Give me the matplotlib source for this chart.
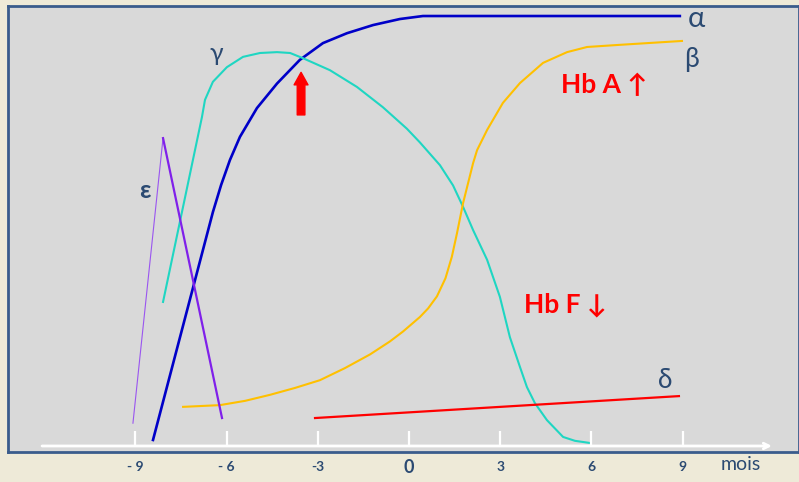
import numpy as np
import matplotlib
matplotlib.use("Agg")
from matplotlib import pyplot as plt

# months (x) and percent of globin chain synthesis (y)
alpha_x = [-8.42, -6.45, -6.18, -5.89, -5.56, -5.00, -4.34, -3.59, -2.83, -2.04, -1.18, -0.30, 0.46, 8.91]
alpha_y = [1.4, 54.4, 60.7, 66.5, 71.9, 78.6, 84.3, 89.8, 93.7, 96.0, 97.9, 99.3, 100.0, 100.0]

gamma_x = [-8.09, -6.81, -6.71, -6.45, -5.99, -5.46, -4.90, -4.34, -3.91, -3.49, -2.60, -1.71,
           -0.86, -0.07, 0.36, 1.02, 1.45, 1.78, 2.11, 2.57, 2.99, 3.32, 3.65, 3.88, 4.14,
           4.54, 5.07, 5.46, 5.95]
gamma_y = [33.5, 76.5, 80.5, 84.7, 88.1, 90.5, 91.4, 91.6, 91.4, 90.2, 87.4, 83.5,
           78.8, 73.8, 70.6, 65.3, 60.6, 55.6, 50.2, 43.3, 34.7, 25.3, 18.4, 13.7, 10.0,
           6.0, 2.1, 1.2, 0.7]

beta_x = [-7.43, -6.22, -5.39, -4.57, -3.75, -2.93, -2.11, -1.28, -0.63, -0.20, 0.36, 0.63,
          0.92, 1.20, 1.41, 1.58, 1.78, 2.11, 2.24, 2.57, 3.09, 3.65, 4.41, 5.20, 5.86, 6.94, 8.98]
beta_y = [9.1, 9.5, 10.5, 11.9, 13.5, 15.3, 18.1, 21.3, 24.3, 26.6, 30.0, 32.0,
          34.8, 39.0, 44.0, 49.5, 56.5, 65.8, 68.8, 73.5, 79.8, 84.4, 89.1, 91.6, 92.8, 93.3, 94.2]

eps_up_x = [-9.08, -8.09]
eps_up_y = [5.3, 71.6]
eps_down_x = [-8.09, -6.15]
eps_down_y = [71.6, 6.5]

delta_x = [-3.09, 8.88]
delta_y = [6.5, 11.6]

tick_months = [-9, -6, -3, 0, 3, 6, 9]
tick_labels = ["- 9", "- 6", "-3", "0", "3", "6", "9"]

NAVY = "#2b4a72"
BG = "#d9d9d9"
STRIP = "#eeead8"
FONTS = ["Lato", "DejaVu Sans"]

fig = plt.figure(figsize=(7.99, 4.82), dpi=100, facecolor=STRIP)
ax = fig.add_axes([8 / 799, 30 / 482, 791 / 799, 446 / 482])
ax.set_facecolor(BG)
ax.set_xlim(-13.19, 12.83)
ax.set_ylim(-1.40, 102.33)
ax.set_xticks([])
ax.set_yticks([])
for sp in ax.spines.values():
    sp.set_color("#3a5c8c")
    sp.set_linewidth(2)

# curves
ax.plot(alpha_x, alpha_y, color="#0000c8", lw=1.9, solid_joinstyle="round")
ax.plot(gamma_x, gamma_y, color="#1fd6c2", lw=1.5, solid_joinstyle="round")
ax.plot(beta_x, beta_y, color="#ffc000", lw=1.5, solid_joinstyle="round")
ax.plot(eps_up_x, eps_up_y, color="#9a55f0", lw=0.8)
ax.plot(eps_down_x, eps_down_y, color="#8020ea", lw=1.6)
ax.plot(delta_x, delta_y, color="#ff0000", lw=1.6)

# x axis arrow and white ticks
ax.annotate("", xy=(11.94, 0), xytext=(-12.07, 0),
            arrowprops=dict(arrowstyle="->", color="white", lw=2, shrinkA=0, shrinkB=0,
                            mutation_scale=10))
ax.vlines(tick_months, 0, 3.5, color="white", lw=1.6)

# tick labels in the strip underneath
for m, lab in zip(tick_months, tick_labels):
    big = lab == "0"
    ax.text(m, -4.9, lab, ha="center", va="center", color=NAVY,
            fontsize=13 if big else 10, fontweight="bold", family=FONTS, clip_on=False)
ax.text(10.9, -4.2, "mois", ha="center", va="center", color=NAVY,
        fontsize=14, family=FONTS, clip_on=False)

# chain labels
greek = dict(color=NAVY, family=FONTS, ha="center", va="center")
ax.text(9.47, 99.3, "α", fontsize=21, **greek)
ax.text(9.28, 90.0, "β", fontsize=19, **greek)
ax.text(-6.35, 91.2, "γ", fontsize=18, **greek)
ax.text(-8.68, 59.5, "ε", fontsize=18, fontweight="bold", **greek)
ax.text(8.42, 15.3, "δ", fontsize=19, **greek)

# haemoglobin annotations
ax.text(6.41, 84.0, "Hb A ↑", color="#ff0000", fontsize=19, fontweight="bold",
        family=FONTS, ha="center", va="center")
ax.text(5.13, 32.8, "Hb F ↓", color="#ff0000", fontsize=19, fontweight="bold",
        family=FONTS, ha="center", va="center")

# red block arrow at the alpha/gamma crossing
ax.annotate("", xy=(-3.55, 86.9), xytext=(-3.55, 77.0),
            arrowprops=dict(arrowstyle="simple,head_width=1.0,head_length=0.9,tail_width=0.55",
                            color="#ff0000", mutation_scale=10, shrinkA=0, shrinkB=0))

fig.savefig("out.png", dpi=100, facecolor=STRIP)
